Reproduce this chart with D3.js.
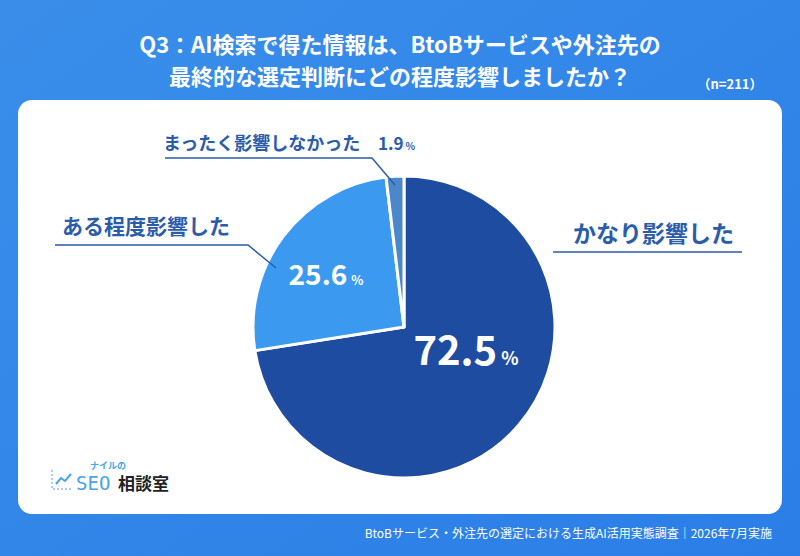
<!DOCTYPE html>
<html><head><meta charset="utf-8">
<script src="https://cdn.jsdelivr.net/npm/d3@7"></script>
<style>body{margin:0;font-family:"Noto Sans CJK JP","Noto Sans",sans-serif;}</style>
</head><body><svg id="c" width="800" height="556"></svg>
<script>
const labels = ["かなり影響した", "ある程度影響した", "まったく影響しなかった"]
const values = [72.5, 25.6, 1.9]
const colors = ["#1e4ca0", "#3b9af0", "#4c88c9"]
const titleLines = ["Q3：AI検索で得た情報は、BtoBサービスや外注先の", "最終的な選定判断にどの程度影響しましたか？"]

const svg = d3.select("#c")
const defs = svg.append("defs")
const g = defs.append("linearGradient").attr("id", "bg").attr("x1", 0).attr("y1", 0).attr("x2", 1).attr("y2", 1)
g.append("stop").attr("offset", 0).attr("stop-color", "#3a8eea")
g.append("stop").attr("offset", 1).attr("stop-color", "#2a7ee6")
svg.append("rect").attr("width", 800).attr("height", 556).attr("fill", "url(#bg)")
svg.append("rect").attr("x", 18).attr("y", 100).attr("width", 764).attr("height", 414).attr("rx", 14).attr("fill", "#fff")

svg.selectAll(".t").data(titleLines).join("text")
    .attr("x", 400).attr("y", (d, i) => 53 + i * 32)
    .attr("text-anchor", "middle").attr("fill", "#fff")
    .attr("font-size", 22).attr("font-weight", 700).text(d => d)
svg.append("text").attr("x", 730).attr("y", 89).attr("text-anchor", "middle").attr("fill", "#fff")
    .attr("font-size", 13).attr("font-weight", 700).text("（n=211）")
svg.append("text").attr("x", 772).attr("y", 538).attr("text-anchor", "end").attr("fill", "#fff")
    .attr("font-size", 12).text("BtoBサービス・外注先の選定における生成AI活用実態調査｜2026年7月実施")

const cx = 404, cy = 327, r = 151
const pie = d3.pie().sort(null)(values)
const arc = d3.arc().innerRadius(0).outerRadius(r)
const pg = svg.append("g").attr("transform", `translate(${cx},${cy})`)
pg.selectAll("path").data(pie).join("path")
    .attr("d", arc).attr("fill", (d, i) => colors[i])
    .attr("stroke", "#fff").attr("stroke-width", 3).attr("stroke-linejoin", "round")

// inside values
const inner = [[62, 38, 40], [-78, -42, 28]]
inner.forEach(([dx, dy, fs], i) => {
    const t = pg.append("text").attr("x", dx).attr("y", dy).attr("text-anchor", "middle")
        .attr("fill", "#fff").attr("font-weight", 700).attr("font-size", fs)
    t.append("tspan").text(values[i].toFixed(1))
    t.append("tspan").attr("font-size", fs * 0.45).attr("dx", 4).text("%")
})

const labelColor = "#2a5caa"
const lab = [
    {x: 573, y: 242, fs: 23, line: [[553, 252], [742, 252]]},
    {x: 62, y: 234, fs: 21, line: [[55, 245], [248, 245], [276, 268]]},
    {x: 163, y: 150, fs: 18, line: [[165, 158], [372, 158], [395, 185]]}
]
lab.forEach((l, i) => {
    svg.append("path").attr("d", d3.line()(l.line)).attr("fill", "none").attr("stroke", labelColor).attr("stroke-width", 1.5)
    svg.append("text").attr("x", l.x).attr("y", l.y).attr("fill", labelColor)
        .attr("font-size", l.fs).attr("font-weight", 700).text(labels[i])
})
const t3 = svg.append("text").attr("x", 378).attr("y", 150).attr("fill", labelColor).attr("font-weight", 700).attr("font-size", 17)
t3.append("tspan").text(values[2].toFixed(1))
t3.append("tspan").attr("font-size", 10).attr("dx", 2).text("%")

// logo
const lg = svg.append("g").attr("transform", "translate(52,462)")
lg.append("path").attr("d", "M0,8 V27 H20").attr("fill", "none").attr("stroke", "#4aa3e8").attr("stroke-width", 1).attr("stroke-dasharray", "2,2")
lg.append("path").attr("d", "M4,22 L9,16 L13,19 L19,12").attr("fill", "none").attr("stroke", "#4aa3e8").attr("stroke-width", 2)
lg.append("text").attr("x", 38).attr("y", 7).attr("fill", "#4aa3e8").attr("font-size", 9).attr("font-weight", 700).text("ナイルの")
lg.append("text").attr("x", 24).attr("y", 28).attr("fill", "#4aa3e8").attr("font-size", 19).attr("font-family", "DejaVu Sans Mono").text("SEO")
lg.append("text").attr("x", 66).attr("y", 28).attr("fill", "#222").attr("font-size", 17).attr("font-weight", 700).text("相談室")
</script></body></html>
